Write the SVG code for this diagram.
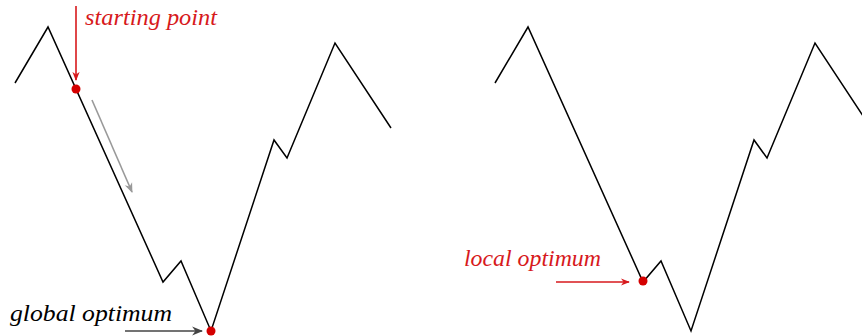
<svg xmlns="http://www.w3.org/2000/svg" width="862" height="336" viewBox="0 0 862 336">
<style>
.curve{fill:none;stroke:#000;stroke-width:1.5;stroke-linejoin:miter}
.lbl{font-family:"Liberation Serif","DejaVu Serif",serif;font-style:italic;font-size:23px}
.red{fill:#d7191c}
.blk{fill:#000}
.dot{fill:#d40000}
</style>
<defs>
<marker id="ahRed" viewBox="0 0 10 10" refX="9" refY="5" markerWidth="9" markerHeight="9" markerUnits="userSpaceOnUse" orient="auto"><path d="M0,1 L10,5 L0,9 L3,5 Z" fill="#d7191c"/></marker>
<marker id="ahGray" viewBox="0 0 10 10" refX="9" refY="5" markerWidth="10" markerHeight="10" markerUnits="userSpaceOnUse" orient="auto"><path d="M0,1 L10,5 L0,9 L3,5 Z" fill="#999"/></marker>
<marker id="ahDark" viewBox="0 0 10 10" refX="9" refY="5" markerWidth="11" markerHeight="11" markerUnits="userSpaceOnUse" orient="auto"><path d="M0,1 L10,5 L0,9 L3,5 Z" fill="#444"/></marker>
</defs>
<g id="left-landscape">
<polyline class="curve" points="15,83 48,27 163,282 181,261 211,331 274,140 287,158 335,43 391,128"/>
</g>
<g id="right-landscape">
<polyline class="curve" points="495,83 528,27 643,282 661,261 691,331 754,140 767,158 815,43 871,128"/>
</g>
<g id="connectors">
<line x1="76" y1="6" x2="76" y2="80" stroke="#d7191c" stroke-width="1.6" marker-end="url(#ahRed)"/>
<line x1="92" y1="100" x2="132" y2="192" stroke="#999" stroke-width="1.6" marker-end="url(#ahGray)"/>
<line x1="125" y1="331" x2="202" y2="331" stroke="#444" stroke-width="1.6" marker-end="url(#ahDark)"/>
<line x1="556" y1="282" x2="629" y2="282" stroke="#d7191c" stroke-width="1.6" marker-end="url(#ahRed)"/>
</g>
<g id="starting-point">
<circle class="dot" cx="76" cy="89" r="4.5"/>
<text class="lbl red" x="85" y="25" textLength="132" lengthAdjust="spacingAndGlyphs">starting point</text>
</g>
<g id="global-optimum">
<circle class="dot" cx="211" cy="331" r="4.5"/>
<text class="lbl blk" x="10" y="321" textLength="162" lengthAdjust="spacingAndGlyphs">global optimum</text>
</g>
<g id="local-optimum">
<circle class="dot" cx="643" cy="281" r="4.5"/>
<text class="lbl red" x="464" y="266" textLength="137" lengthAdjust="spacingAndGlyphs">local optimum</text>
</g>
</svg>
